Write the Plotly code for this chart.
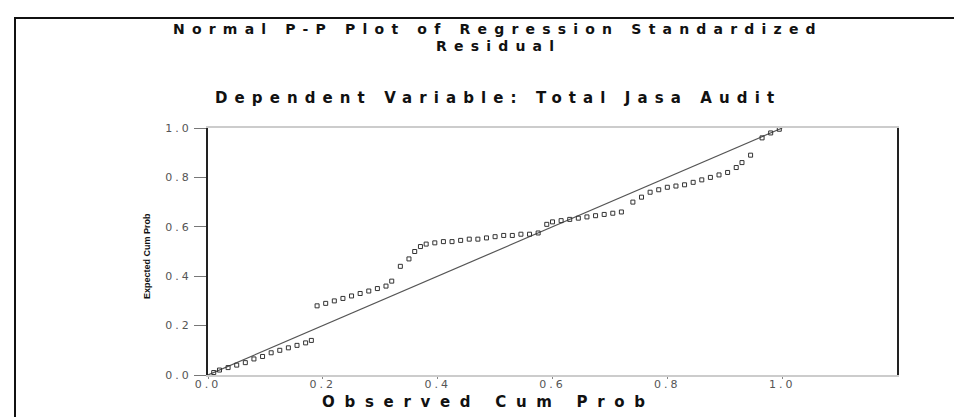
import plotly.graph_objects as go

# Observed vs expected cumulative probabilities
observed_cum_prob = [0.01, 0.02, 0.035, 0.05, 0.065, 0.08, 0.095, 0.11, 0.125, 0.14, 0.155, 0.17, 0.18,
                     0.19, 0.205, 0.22, 0.235, 0.25, 0.265, 0.28, 0.295, 0.31, 0.32,
                     0.335, 0.35, 0.36, 0.37,
                     0.38, 0.395, 0.41, 0.425, 0.44, 0.455, 0.47, 0.485, 0.50, 0.515, 0.53, 0.545, 0.56, 0.575,
                     0.59, 0.60, 0.615, 0.63, 0.645, 0.66, 0.675, 0.69, 0.705, 0.72,
                     0.74, 0.755, 0.77, 0.785, 0.80, 0.815, 0.83, 0.845, 0.86, 0.875, 0.89, 0.905, 0.92, 0.93,
                     0.945, 0.965, 0.98, 0.995]
expected_cum_prob = [0.01, 0.02, 0.03, 0.04, 0.05, 0.065, 0.075, 0.09, 0.10, 0.11, 0.12, 0.13, 0.14,
                     0.28, 0.29, 0.30, 0.31, 0.32, 0.33, 0.34, 0.35, 0.36, 0.38,
                     0.44, 0.47, 0.50, 0.52,
                     0.53, 0.535, 0.54, 0.54, 0.545, 0.55, 0.55, 0.555, 0.56, 0.565, 0.565, 0.57, 0.57, 0.575,
                     0.61, 0.62, 0.625, 0.63, 0.635, 0.64, 0.645, 0.65, 0.655, 0.66,
                     0.70, 0.72, 0.74, 0.75, 0.76, 0.765, 0.77, 0.78, 0.79, 0.80, 0.81, 0.82, 0.84, 0.86,
                     0.89, 0.96, 0.98, 0.995]

# Reference diagonal
diag_x = [0.0, 1.0]
diag_y = [0.0, 1.0]

tick_vals = [0.0, 0.2, 0.4, 0.6, 0.8, 1.0]
tick_labels = ["0.0", "0.2", "0.4", "0.6", "0.8", "1.0"]

title_line1 = "Normal P-P Plot of Regression Standardized"
title_line2 = "Residual"
subtitle = "Dependent Variable: Total Jasa Audit"
x_title = "Observed Cum Prob"
y_title = "Expected Cum Prob"

FONT = "DejaVu Sans, Verdana, sans-serif"

def spaced(t, ls):
    return '<span style="letter-spacing:%spx">%s</span>' % (ls, t)

tick_text = [spaced(t, 3) for t in tick_labels]

fig = go.Figure()
fig.add_trace(go.Scatter(x=diag_x, y=diag_y, mode="lines",
                         line=dict(color="#555555", width=1.2), hoverinfo="skip",
                         showlegend=False))
fig.add_trace(go.Scatter(x=observed_cum_prob, y=expected_cum_prob, mode="markers",
                         marker=dict(symbol="square-open", size=4, color="#333333",
                                     line=dict(width=1)),
                         showlegend=False))

L, R, T, B = 200, 73, 120, 50
W, H = 962, 417
pw, ph = W - L - R, H - T - B

def px(xp):
    return (xp - L) / pw

def py(yp):
    return (H - B - yp) / ph

anns = [
    dict(text="<b>" + spaced(title_line1, 7.2) + "</b>", x=px(490), y=py(21),
         size=14),
    dict(text="<b>" + spaced(title_line2, 7.2) + "</b>", x=px(490), y=py(38),
         size=14),
    dict(text="<b>" + spaced(subtitle, 7.1) + "</b>", x=px(490), y=py(90), size=15),
    dict(text="<b>" + spaced(x_title, 9.7) + "</b>", x=px(480), y=py(394), size=15),
]
annotations = []
for a in anns:
    size = a.pop("size")
    annotations.append(dict(xref="paper", yref="paper", showarrow=False, xanchor="center",
                            yanchor="middle",
                            font=dict(family=FONT, size=size, color="#111111"), **a))
annotations.append(dict(xref="paper", yref="paper", showarrow=False, x=px(139), y=py(248),
                        xanchor="center", yanchor="middle", textangle=-90,
                        text="<b>" + y_title + "</b>",
                        font=dict(family="Arial, Liberation Sans, sans-serif", size=9,
                                  color="#111111")))

fig.update_layout(
    width=W, height=H,
    margin=dict(l=L, r=R, t=T, b=B, pad=0),
    paper_bgcolor="white", plot_bgcolor="white",
    font=dict(family=FONT, color="#444444"),
    annotations=annotations,
    shapes=[dict(type="rect", xref="paper", yref="paper",
                 x0=px(7), x1=px(957), y0=py(415), y1=py(10),
                 line=dict(color="#111111", width=2), layer="below")],
    xaxis=dict(range=[0, 1.2], tickvals=tick_vals, ticktext=tick_text,
               showgrid=False, zeroline=False, showline=True, mirror=True,
               linecolor="#cccccc", linewidth=2, ticks="outside", ticklen=2,
               ticklabelstandoff=-4,
               tickcolor="#888888", tickfont=dict(size=11, color="#555555")),
    yaxis=dict(range=[0, 1.0], tickvals=tick_vals, ticktext=tick_text,
               showgrid=False, zeroline=False, showline=True, mirror=True,
               linecolor="#222222", linewidth=2, ticks="outside", ticklen=12,
               tickcolor="#777777", tickfont=dict(size=11, color="#555555")),
)

fig.write_html("out.html")
